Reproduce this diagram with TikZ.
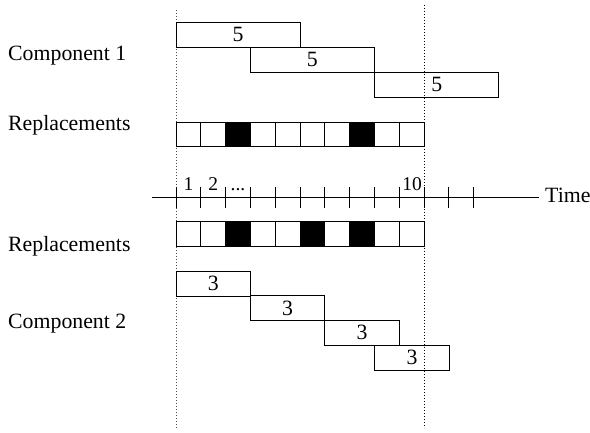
\documentclass[tikz,border=0pt]{standalone}
\usepackage{fontspec}
\setmainfont{Liberation Serif}
\begin{document}
\begin{tikzpicture}[x=1pt,y=-1pt,
  every node/.style={font=\fontsize{21.8}{24}\selectfont},
  lbl/.style={anchor=base west, inner sep=0pt},
  bar/.style={draw, line width=0.8pt, minimum height=25pt, anchor=north west, inner sep=0pt, outer sep=0pt},
  cell/.style={draw, line width=0.8pt, minimum width=24.8pt, minimum height=24.5pt, anchor=north west, inner sep=0pt, outer sep=0pt},
  full/.style={cell, fill=black},
  guide/.style={line width=0.8pt, dash pattern=on 1pt off 2pt},
  tickmark/.style={line width=0.8pt},
  axis/.style={line width=0.8pt},
  nums/.style={inner sep=0pt, anchor=base, font=\fontsize{19.5}{22}\selectfont}
]
\useasboundingbox (0,0) rectangle (590,433);
% guides
\coordinate (g1t) at (176,10); \coordinate (g1b) at (176,428);
\coordinate (g2t) at (424.3,5); \coordinate (g2b) at (424.3,428);
\draw[guide, black!70] (g1t) -- (g1b);
\draw[guide] (g2t) -- (g2b);
% labels
\node[lbl] (l1) at (8,60.5) {Component 1};
\node[lbl] (l2) at (8,130.5) {Replacements};
\node[lbl] (l3) at (8,251.5) {Replacements};
\node[lbl] (l4) at (8,328) {Component 2};
% component 1
\node[bar, minimum width=124pt] (a1) at (176,22) {5};
\node[bar, minimum width=124pt] (a2) at (250.4,47) {5};
\node[bar, minimum width=124pt] (a3) at (374.8,72) {5};
% replacement rows
\foreach \i/\s in {0/cell,1/cell,2/full,3/cell,4/cell,5/cell,6/cell,7/full,8/cell,9/cell}{
  \node[\s] (r\i) at (176+\i*24.8,122) {};
}
\foreach \i/\s in {0/cell,1/cell,2/full,3/cell,4/cell,5/full,6/cell,7/full,8/cell,9/cell}{
  \node[\s] (q\i) at (176+\i*24.8,221.5) {};
}
% axis
\coordinate (ax0) at (152,197);
\node[anchor=base west, inner sep=0pt] (time) at (545,202.7) {Time};
\draw[axis] (ax0) -- (539,197);
\foreach \k in {0,...,12}{
  \coordinate (tt\k) at (176+\k*24.8,187);
  \coordinate (tb\k) at (176+\k*24.8,208);
  \draw[tickmark] (tt\k) -- (tb\k);
}
\node[nums] (n1) at (188.4,191) {1};
\node[nums] (n2) at (213.2,191) {2};
\node[nums] (n3) at (238,191) {...};
\node[nums] (n10) at (412,191) {10};
% component 2
\node[bar, minimum width=74.4pt] (b1) at (176,271) {3};
\node[bar, minimum width=74.4pt] (b2) at (250.4,295.5) {3};
\node[bar, minimum width=74.4pt] (b3) at (324.8,320) {3};
\node[bar, minimum width=74.4pt] (b4) at (374.8,345) {3};
\end{tikzpicture}
\end{document}
